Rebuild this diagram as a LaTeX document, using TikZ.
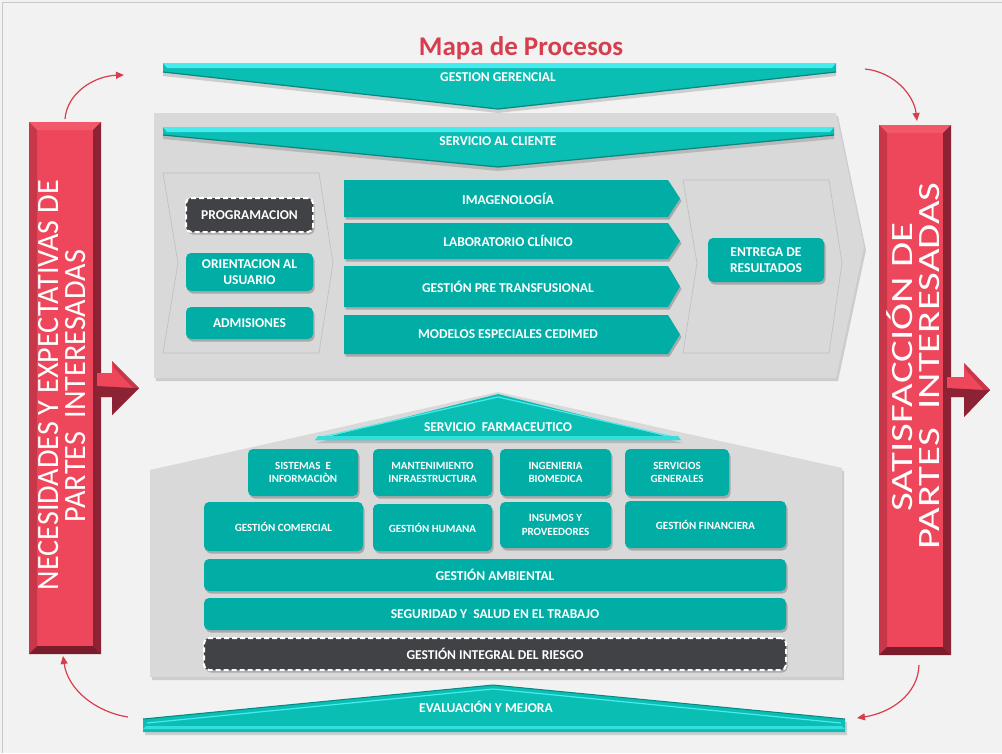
\documentclass[tikz,border=0pt]{standalone}
\usepackage{fontspec}
\setmainfont{Carlito}
\usetikzlibrary{arrows.meta,shadows}
\definecolor{bgc}{RGB}{242,242,242}
\definecolor{framec}{RGB}{200,200,200}
\definecolor{panelc}{RGB}{217,217,217}
\definecolor{outlinec}{RGB}{190,190,190}
\definecolor{boxteal}{RGB}{0,174,166}
\definecolor{banteal}{RGB}{10,190,180}
\definecolor{banlight}{RGB}{70,235,238}
\definecolor{bandark}{RGB}{6,135,128}
\definecolor{darkbox}{RGB}{64,66,70}
\definecolor{titlered}{RGB}{214,62,78}
\definecolor{arrowred}{RGB}{214,62,78}
\definecolor{barface}{RGB}{238,70,90}
\definecolor{barlight}{RGB}{242,88,106}
\definecolor{barmid}{RGB}{200,55,73}
\definecolor{bardark}{RGB}{140,35,52}
\definecolor{bardarker}{RGB}{122,28,44}
\begin{document}
\begin{tikzpicture}[x=1pt,y=-1pt,
  shd/.style={drop shadow={shadow xshift=1.5pt,shadow yshift=-2.5pt,fill=black,opacity=0.22}},
  tbox/.style={rounded corners=5pt,fill=boxteal,text=white,align=center,inner sep=0pt,shd,
    font=\bfseries\fontsize{13.5}{16.5}\selectfont},
  sbox/.style={tbox,font=\bfseries\fontsize{11}{13.5}\selectfont},
  dbox/.style={tbox,fill=darkbox,draw=white,line width=2pt,dash pattern=on 5pt off 3pt},
  lbl/.style={text=white,inner sep=0pt,font=\bfseries\fontsize{13.5}{16}\selectfont},
  barlbl/.style={text=white,inner sep=0pt,anchor=base,rotate=90,font=\fontsize{31}{31}\selectfont},
  redarrow/.style={draw=arrowred,line width=1.2pt,-{Triangle[length=8pt,width=7pt]}},
  chev/.style={draw=outlinec,line width=0.6pt},
  bshadow/.style={fill=black,opacity=0.15}]
\useasboundingbox (0,0) rectangle (1002,753);
\fill[bgc] (0,0) rectangle (1002,753);
\draw[framec,line width=1pt] (2,753) -- (2,2) -- (1002,2);

% title
\node[anchor=base,text=titlered,inner sep=0pt,font=\bfseries\fontsize{27}{30}\selectfont] (title) at (521,55) {Mapa de Procesos};

% upper panel
\fill[bshadow] (156,116) -- (838,116) -- (866,250) -- (838,381) -- (156,381) -- cycle;
\fill[panelc] (154,113) -- (836,113) -- (864,247) -- (836,378) -- (154,378) -- cycle;

% lower panel
\fill[bshadow] (152,473) -- (500,395) -- (844,471) -- (844,680) -- (152,680) -- cycle;
\fill[panelc] (150,470) -- (498,392) -- (842,468) -- (842,677) -- (150,677) -- cycle;

% GESTION GERENCIAL banner
\fill[bshadow] (163,67) -- (836,67) -- (836,76) -- (498,113) -- (163,76) -- cycle;
\fill[banteal] (163,63) -- (836,63) -- (836,72) -- (498,109) -- (163,72) -- cycle;
\fill[banlight] (163,63) -- (836,63) -- (832,68) -- (167,68) -- cycle;
\draw[bandark,line width=1.2pt] (163,72) -- (498,109) -- (836,72);
\node[lbl] (gerencial) at (498,77) {GESTION GERENCIAL};

% SERVICIO AL CLIENTE banner
\fill[bshadow] (163,131) -- (834,131) -- (834,139) -- (498,171) -- (163,139) -- cycle;
\fill[banteal] (163,127) -- (834,127) -- (834,135) -- (498,167) -- (163,135) -- cycle;
\fill[banlight] (163,127) -- (834,127) -- (830,132) -- (167,132) -- cycle;
\draw[bandark,line width=1.2pt] (163,135) -- (498,167) -- (834,135);
\node[lbl] (cliente) at (498,141) {SERVICIO AL CLIENTE};

% chevrons
\draw[chev] (163,173) -- (319,173) -- (333,263) -- (319,353) -- (163,353) -- (178,263) -- cycle;
\draw[chev] (683,180) -- (829,180) -- (842,263) -- (829,353) -- (683,353) -- (697,263) -- cycle;

% left group
\node[dbox,minimum width=127pt,minimum height=34pt] (prog) at (249.5,215) {PROGRAMACION};
\node[tbox,minimum width=127pt,minimum height=38pt] (orient) at (249.5,272) {ORIENTACION AL\\USUARIO};
\node[tbox,minimum width=127pt,minimum height=32pt] (adm) at (249.5,323) {ADMISIONES};

% process arrows
\fill[boxteal,shd] (344,180) -- (668,180) -- (680,198.5) -- (668,217) -- (344,217) -- cycle;
\node[lbl] (imag) at (508,198.5) {IMAGENOLOGÍA};
\fill[boxteal,shd] (344,223) -- (668,223) -- (680,241) -- (668,259) -- (344,259) -- cycle;
\node[lbl] (lab) at (508,241) {LABORATORIO CLÍNICO};
\fill[boxteal,shd] (344,266) -- (668,266) -- (680,286.5) -- (668,307) -- (344,307) -- cycle;
\node[lbl] (transf) at (508,286.5) {GESTIÓN PRE TRANSFUSIONAL};
\fill[boxteal,shd] (344,315) -- (668,315) -- (680,334.5) -- (668,354) -- (344,354) -- cycle;
\node[lbl] (modelos) at (508,334.5) {MODELOS ESPECIALES CEDIMED};

% entrega
\node[tbox,minimum width=116pt,minimum height=44pt] (entrega) at (766,260) {ENTREGA DE\\RESULTADOS};

% SERVICIO FARMACEUTICO
\fill[bshadow] (316,443) -- (499,397) -- (683,443) -- cycle;
\fill[banteal] (315,440) -- (498,394) -- (681,440) -- cycle;
\draw[banlight,line width=1.2pt] (322,437) -- (498,397) -- (674,437);
\fill[banlight!70!banteal] (318,436) -- (678,436) -- (681,440) -- (315,440) -- cycle;
\node[lbl] (farma) at (498,427) {SERVICIO\ \ FARMACEUTICO};

% row 1
\node[sbox,minimum width=110pt,minimum height=47pt] (sist) at (303,472.5) {SISTEMAS\ \ E\\INFORMACIÒN};
\node[sbox,minimum width=119pt,minimum height=47pt] (mant) at (432.5,472.5) {MANTENIMIENTO\\INFRAESTRUCTURA};
\node[sbox,minimum width=111pt,minimum height=47pt] (ing) at (555.5,472.5) {INGENIERIA\\BIOMEDICA};
\node[sbox,minimum width=104pt,minimum height=47pt] (serv) at (677,472.5) {SERVICIOS\\GENERALES};
% row 2
\node[sbox,minimum width=159pt,minimum height=49pt] (comer) at (283.5,526.5) {GESTIÓN COMERCIAL};
\node[sbox,minimum width=119pt,minimum height=47pt] (humana) at (432.5,527.5) {GESTIÓN HUMANA};
\node[sbox,minimum width=111pt,minimum height=46pt] (insumos) at (555.5,525) {INSUMOS Y\\PROVEEDORES};
\node[sbox,minimum width=161pt,minimum height=47pt] (finan) at (705.5,524.5) {GESTIÓN FINANCIERA};
% wide rows
\node[tbox,minimum width=582pt,minimum height=32pt] (amb) at (495,575) {GESTIÓN AMBIENTAL};
\node[tbox,minimum width=582pt,minimum height=32pt] (sst) at (495,614) {SEGURIDAD Y\ \ SALUD EN EL TRABAJO};
\node[dbox,minimum width=582pt,minimum height=32pt] (riesgo) at (495,654) {GESTIÓN INTEGRAL DEL RIESGO};

% EVALUACION Y MEJORA
\fill[bshadow] (145,735) -- (145,722) -- (495,688) -- (847,722) -- (847,735) -- cycle;
\fill[banteal] (143,732) -- (143,719) -- (493,685) -- (845,719) -- (845,732) -- cycle;
\draw[bandark,line width=1pt] (143,719) -- (493,685) -- (845,719);
\draw[banlight,line width=1.2pt] (147,723) -- (493,689) -- (841,723);
\fill[banlight!70!banteal] (146,726) -- (842,726) -- (845,729) -- (143,729) -- cycle;
\node[lbl] (eval) at (486,707) {EVALUACIÓN Y MEJORA};

% left red bar
\fill[barface] (29,122) rectangle (101,654);
\fill[barlight] (29,122) -- (101,122) -- (93,130) -- (37,130) -- cycle;
\fill[barmid] (29,122) -- (37,130) -- (37,646) -- (29,654) -- cycle;
\fill[bardark] (101,122) -- (101,654) -- (93,646) -- (93,130) -- cycle;
\fill[bardarker] (29,654) -- (101,654) -- (93,646) -- (37,646) -- cycle;
\node[barlbl] (necL1) at (58,385) {\resizebox{410pt}{\height}{NECESIDADES Y EXPECTATIVAS DE}};
\node[barlbl] (necL2) at (85,386) {\resizebox{272pt}{\height}{PARTES\ \ INTERESADAS}};
% left block arrow
\fill[barface] (97,373) -- (112,373) -- (112,361) -- (139,388) -- (112,415) -- (112,397) -- (97,397) -- cycle;
\fill[barmid] (112,361) -- (139,388) -- (133,388) -- (114,368) -- cycle;
\fill[bardark] (97,386) -- (133,388) -- (139,388) -- (112,415) -- (112,397) -- (97,397) -- cycle;

% right red bar
\fill[barface] (879,125) rectangle (951,655);
\fill[barlight] (879,125) -- (951,125) -- (943,133) -- (887,133) -- cycle;
\fill[barmid] (879,125) -- (887,133) -- (887,647) -- (879,655) -- cycle;
\fill[bardark] (951,125) -- (951,655) -- (943,647) -- (943,133) -- cycle;
\fill[bardarker] (879,655) -- (951,655) -- (943,647) -- (887,647) -- cycle;
\node[barlbl] (satL1) at (912,367) {\resizebox{289pt}{\height}{SATISFACCIÓN DE}};
\node[barlbl] (satL2) at (939,366) {\resizebox{367pt}{\height}{PARTES\ \ INTERESADAS}};
% right block arrow
\fill[barface] (947,377) -- (964,377) -- (964,363) -- (990,390) -- (964,417) -- (964,397) -- (947,397) -- cycle;
\fill[barmid] (964,363) -- (990,390) -- (984,390) -- (966,370) -- cycle;
\fill[bardark] (947,388) -- (984,390) -- (990,390) -- (964,417) -- (964,397) -- (947,397) -- cycle;

% curved connectors
\coordinate (tlS) at (65,119);
\coordinate (tlE) at (124,75);
\coordinate (trS) at (865,69);
\coordinate (trE) at (917,121);
\coordinate (blS) at (128,717);
\coordinate (blE) at (63,656);
\coordinate (brS) at (919,665);
\coordinate (brE) at (857,718);
\draw[redarrow] (tlS) .. controls (67,93) and (94,76) .. (tlE);
\draw[redarrow] (trS) .. controls (894,72) and (914,95) .. (trE);
\draw[redarrow] (blS) .. controls (96,712) and (68,690) .. (blE);
\draw[redarrow] (brS) .. controls (918,695) and (890,713) .. (brE);
\end{tikzpicture}
\end{document}
